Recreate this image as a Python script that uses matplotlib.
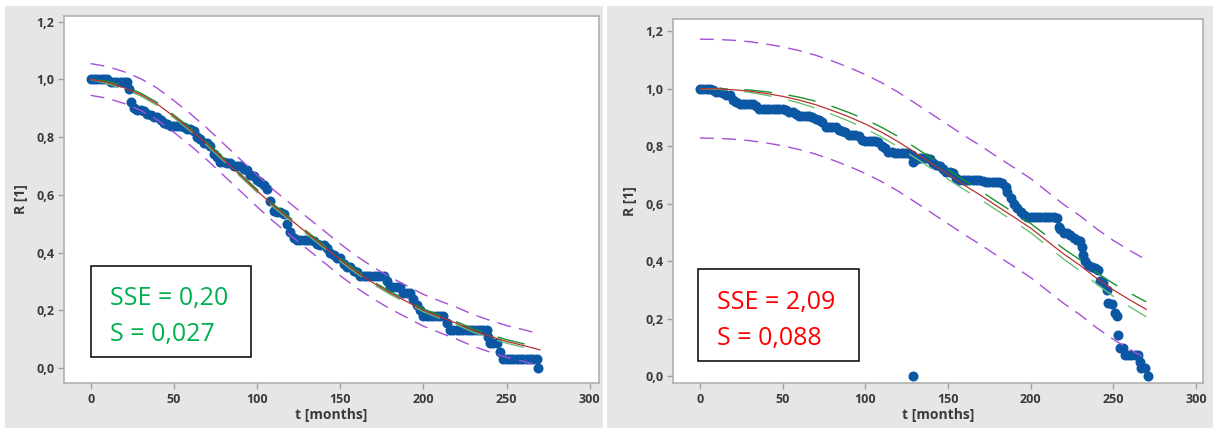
import numpy as np
import matplotlib
matplotlib.use('Agg')
import matplotlib.pyplot as plt
from matplotlib.patches import Rectangle

# data
# left panel: empirical reliability points
t_left = [0, 2, 4, 6, 8, 10, 12, 14, 16, 18,
          20, 22, 23, 24, 26, 28, 30, 32, 34, 36,
          38, 40, 42, 44, 46, 48, 50, 52, 54, 56,
          58, 60, 62, 64, 66, 68, 70, 72, 74, 76,
          78, 80, 82, 84, 86, 88, 90, 92, 94, 96,
          98, 100, 102, 104, 106, 108, 110, 112, 114, 116,
          118, 120, 122, 124, 126, 128, 130, 132, 134, 136,
          138, 140, 142, 144, 146, 148, 150, 152, 154, 156,
          158, 160, 162, 164, 166, 168, 170, 172, 174, 176,
          178, 180, 182, 184, 186, 188, 190, 192, 194, 196,
          198, 200, 202, 204, 206, 208, 210, 212, 214, 216,
          218, 220, 222, 224, 226, 228, 230, 232, 234, 236,
          238, 239, 240, 242, 244, 246, 248, 250, 252, 254,
          256, 258, 260, 262, 264, 266, 268, 269]
R_left = [1.00, 1.00, 1.00, 1.00, 1.00, 1.00, 0.99, 0.99, 0.99, 0.99,
          0.99, 0.99, 0.967, 0.923, 0.90, 0.895, 0.895, 0.89, 0.88, 0.877,
          0.87, 0.87, 0.86, 0.85, 0.845, 0.84, 0.84, 0.84, 0.84, 0.835,
          0.83, 0.83, 0.82, 0.80, 0.795, 0.78, 0.78, 0.77, 0.74, 0.73,
          0.715, 0.715, 0.71, 0.71, 0.70, 0.70, 0.70, 0.69, 0.685, 0.67,
          0.665, 0.65, 0.645, 0.635, 0.62, 0.58, 0.545, 0.54, 0.54, 0.535,
          0.50, 0.47, 0.45, 0.444, 0.444, 0.444, 0.444, 0.444, 0.44, 0.43,
          0.427, 0.427, 0.415, 0.40, 0.39, 0.382, 0.382, 0.36, 0.35, 0.35,
          0.335, 0.333, 0.32, 0.319, 0.319, 0.319, 0.319, 0.319, 0.319, 0.319,
          0.30, 0.28, 0.28, 0.28, 0.28, 0.26, 0.26, 0.26, 0.24, 0.22,
          0.20, 0.18, 0.18, 0.18, 0.18, 0.18, 0.18, 0.18, 0.156, 0.132,
          0.132, 0.132, 0.132, 0.132, 0.132, 0.132, 0.132, 0.132, 0.132, 0.132,
          0.132, 0.108, 0.087, 0.087, 0.087, 0.056, 0.031, 0.031, 0.031, 0.031,
          0.031, 0.031, 0.031, 0.031, 0.031, 0.031, 0.031, 0.0]

# right panel: empirical reliability points
t_right = [0, 2, 4, 6, 8, 10, 12, 14, 16, 18,
           20, 22, 24, 26, 28, 30, 32, 34, 36, 38,
           40, 42, 44, 46, 48, 50, 52, 54, 56, 58,
           60, 62, 64, 66, 68, 70, 72, 74, 76, 78,
           80, 82, 84, 86, 88, 90, 92, 94, 96, 98,
           100, 102, 104, 106, 108, 110, 112, 114, 116, 118,
           120, 122, 124, 126, 128, 129, 129, 131, 133, 135,
           137, 139, 141, 143, 145, 147, 149, 151, 153, 155,
           157, 159, 161, 163, 165, 167, 169, 171, 173, 175,
           177, 179, 181, 183, 185, 186, 188, 190, 192, 194,
           196, 198, 200, 202, 204, 206, 208, 210, 212, 214,
           216, 217, 218, 220, 222, 224, 226, 228, 230, 231,
           232, 233, 235, 237, 239, 241, 242, 244, 246, 247,
           249, 251, 252, 253, 254, 256, 257, 259, 261, 263,
           265, 266, 267, 269, 271]
R_right = [1.0, 1.0, 1.0, 1.0, 0.995, 0.989, 0.989, 0.985, 0.977, 0.977,
           0.96, 0.955, 0.945, 0.945, 0.945, 0.945, 0.945, 0.94, 0.93, 0.928,
           0.928, 0.928, 0.928, 0.928, 0.928, 0.928, 0.925, 0.92, 0.92, 0.91,
           0.905, 0.905, 0.905, 0.905, 0.90, 0.895, 0.89, 0.885, 0.867, 0.867,
           0.867, 0.865, 0.855, 0.852, 0.85, 0.838, 0.838, 0.838, 0.835, 0.82,
           0.818, 0.818, 0.818, 0.818, 0.815, 0.80, 0.795, 0.78, 0.778, 0.775,
           0.775, 0.775, 0.775, 0.775, 0.77, 0.745, 0.0, 0.755, 0.76, 0.76,
           0.758, 0.755, 0.74, 0.734, 0.73, 0.72, 0.71, 0.71, 0.705, 0.69,
           0.682, 0.682, 0.682, 0.682, 0.682, 0.682, 0.682, 0.68, 0.676, 0.676,
           0.676, 0.676, 0.676, 0.672, 0.658, 0.64, 0.62, 0.60, 0.585, 0.57,
           0.56, 0.552, 0.552, 0.552, 0.552, 0.552, 0.552, 0.552, 0.552, 0.552,
           0.55, 0.52, 0.51, 0.497, 0.497, 0.492, 0.48, 0.473, 0.47, 0.449,
           0.42, 0.40, 0.385, 0.38, 0.375, 0.37, 0.33, 0.325, 0.30, 0.255,
           0.25, 0.22, 0.21, 0.143, 0.097, 0.097, 0.073, 0.073, 0.073, 0.073,
           0.073, 0.05, 0.028, 0.028, 0.0]

# fitted curves (fit, confidence band, prediction band)
t_fit = [0, 10, 20, 30, 40, 50, 60, 70, 80, 90, 100, 110, 120, 130,
         140, 150, 160, 170, 180, 190, 200, 210, 220, 230, 240, 250, 260, 270]

fit_left = [1.000, 0.990, 0.972, 0.948, 0.915, 0.872, 0.826, 0.776, 0.722, 0.668, 0.614, 0.562, 0.515, 0.468,
            0.422, 0.375, 0.332, 0.294, 0.260, 0.230, 0.200, 0.177, 0.155, 0.130, 0.110, 0.092, 0.078, 0.063]
ci_up_left = [1.000, 0.994, 0.977, 0.953, 0.920, 0.877, 0.831, 0.781, 0.727, 0.673, 0.619, 0.567, 0.520, 0.473,
              0.427, 0.380, 0.337, 0.299, 0.265, 0.235, 0.205, 0.182, 0.160, 0.136, 0.116, 0.098, 0.084, 0.070]
ci_lo_left = [1.000, 0.986, 0.967, 0.943, 0.910, 0.867, 0.821, 0.771, 0.717, 0.663, 0.609, 0.557, 0.510, 0.463,
              0.417, 0.370, 0.327, 0.289, 0.255, 0.225, 0.195, 0.172, 0.150, 0.124, 0.104, 0.086, 0.072, 0.056]
pi_up_left = [1.055, 1.045, 1.027, 1.003, 0.970, 0.927, 0.881, 0.831, 0.777, 0.723, 0.669, 0.617, 0.570, 0.523,
              0.477, 0.430, 0.387, 0.349, 0.315, 0.285, 0.255, 0.232, 0.210, 0.185, 0.165, 0.147, 0.133, 0.118]
pi_lo_left = [0.945, 0.935, 0.917, 0.893, 0.860, 0.817, 0.771, 0.721, 0.667, 0.613, 0.559, 0.507, 0.460, 0.413,
              0.367, 0.320, 0.277, 0.239, 0.205, 0.175, 0.145, 0.122, 0.100, 0.075, 0.055, 0.037, 0.023, 0.008]

fit_right = [1.000, 0.999, 0.996, 0.991, 0.983, 0.973, 0.960, 0.944, 0.924, 0.902, 0.877, 0.848, 0.815, 0.778,
             0.740, 0.702, 0.664, 0.628, 0.590, 0.553, 0.515, 0.470, 0.425, 0.385, 0.340, 0.300, 0.265, 0.232]
ci_up_right = [1.000, 1.000, 0.998, 0.995, 0.989, 0.981, 0.970, 0.956, 0.938, 0.917, 0.893, 0.865, 0.833, 0.796,
               0.758, 0.719, 0.680, 0.643, 0.605, 0.568, 0.531, 0.487, 0.443, 0.404, 0.360, 0.322, 0.289, 0.258]
ci_lo_right = [1.000, 0.998, 0.994, 0.987, 0.977, 0.965, 0.950, 0.932, 0.910, 0.887, 0.861, 0.831, 0.797, 0.760,
               0.722, 0.685, 0.648, 0.613, 0.575, 0.538, 0.499, 0.453, 0.407, 0.366, 0.320, 0.278, 0.241, 0.206]
pi_up_right = [1.172, 1.171, 1.168, 1.163, 1.155, 1.145, 1.132, 1.116, 1.096, 1.074, 1.049, 1.020, 0.987, 0.950,
               0.912, 0.874, 0.836, 0.800, 0.762, 0.725, 0.687, 0.642, 0.597, 0.557, 0.512, 0.472, 0.437, 0.404]
pi_lo_right = [0.828, 0.827, 0.824, 0.819, 0.811, 0.801, 0.788, 0.772, 0.752, 0.730, 0.705, 0.676, 0.643, 0.606,
               0.568, 0.530, 0.492, 0.456, 0.418, 0.381, 0.343, 0.298, 0.253, 0.213, 0.168, 0.128, 0.093, 0.060]

x_ticks = [0, 50, 100, 150, 200, 250, 300]
y_ticks = [0.0, 0.2, 0.4, 0.6, 0.8, 1.0, 1.2]
y_labels = ['0,0', '0,2', '0,4', '0,6', '0,8', '1,0', '1,2']

stats_left = ['SSE = 0,20', 'S = 0,027']
stats_right = ['SSE = 2,09', 'S = 0,088']

W, H = 1213, 428
fig = plt.figure(figsize=(W / 100, H / 100), dpi=100, facecolor='white')

def fx(x):
    return x / W

def fy(y):
    return 1 - y / H

# gray panel backgrounds
fig.add_artist(Rectangle((fx(5), 0), fx(603) - fx(5), fy(6), transform=fig.transFigure,
                         facecolor='#e6e6e6', edgecolor='none', zorder=-5))
fig.add_artist(Rectangle((fx(607), 0), fx(1213) - fx(607), fy(6), transform=fig.transFigure,
                         facecolor='#e6e6e6', edgecolor='none', zorder=-5))

tick_col = '#3a3a3a'
blue = '#0b57a4'

def draw_panel(rect, xlim, ylim, t, R, fit, ciu, cil, piu, pil):
    ax = fig.add_axes(rect)
    ax.set_facecolor('white')
    ax.scatter(t, R, s=52, color=blue, linewidths=0, zorder=2)
    ax.plot(t_fit, pil, color='#a64fd8', lw=1, dashes=(10, 6), zorder=3)
    ax.plot(t_fit, piu, color='#a64fd8', lw=1, dashes=(10, 6), zorder=3)
    ax.plot(t_fit, ciu, color='#1f8f2a', lw=1, dashes=(20, 12), zorder=3)
    ax.plot(t_fit, cil, color='#6cc074', lw=1, dashes=(20, 12), zorder=3)
    ax.plot(t_fit, fit, color='#b83232', lw=0.9, zorder=4)
    ax.set_xlim(xlim)
    ax.set_ylim(ylim)
    ax.set_xticks(x_ticks)
    ax.set_xticklabels([str(v) for v in x_ticks], fontsize=9, fontweight='bold', color=tick_col, family='Open Sans')
    ax.set_yticks(y_ticks)
    ax.set_yticklabels(y_labels, fontsize=9, fontweight='bold', color=tick_col, family='Open Sans')
    ax.tick_params(direction='out', length=4, width=1, color='#a0a0a0', pad=3)
    for sp in ax.spines.values():
        sp.set_color('#b0b0b0')
        sp.set_linewidth(1.2)
    ax.set_xlabel('t [months]', fontsize=10, fontweight='bold', color=tick_col, family='Open Sans', labelpad=2)
    ax.set_ylabel('R [1]', fontsize=10, fontweight='bold', color=tick_col, family='Open Sans', labelpad=6)
    return ax

draw_panel([fx(64), fy(383), fx(599) - fx(64), fy(16) - fy(383)], (-16, 305.5), (-0.052, 1.22),
           t_left, R_left, fit_left, ci_up_left, ci_lo_left, pi_up_left, pi_lo_left)
draw_panel([fx(673), fy(383), fx(1203) - fx(673), fy(19) - fy(383)], (-16.3, 304.3), (-0.024, 1.242),
           t_right, R_right, fit_right, ci_up_right, ci_lo_right, pi_up_right, pi_lo_right)

# stats boxes
def stat_box(x0, y0, x1, y1, lines, color, tx, base1, base2):
    fig.add_artist(Rectangle((fx(x0), fy(y1)), fx(x1) - fx(x0), fy(y0) - fy(y1), transform=fig.transFigure,
                             facecolor='white', edgecolor='black', lw=1.1, zorder=5))
    fig.text(fx(tx), fy(base1), lines[0], color=color, fontsize=18, family='Open Sans', va='baseline', zorder=6)
    fig.text(fx(tx), fy(base2), lines[1], color=color, fontsize=18, family='Open Sans', va='baseline', zorder=6)

stat_box(90.7, 266, 251, 357, stats_left, '#00b050', 110, 304.5, 340.5)
stat_box(697.7, 269, 858.7, 361, stats_right, '#ff0000', 717, 308.5, 345)

fig.savefig('out.png', dpi=100)
